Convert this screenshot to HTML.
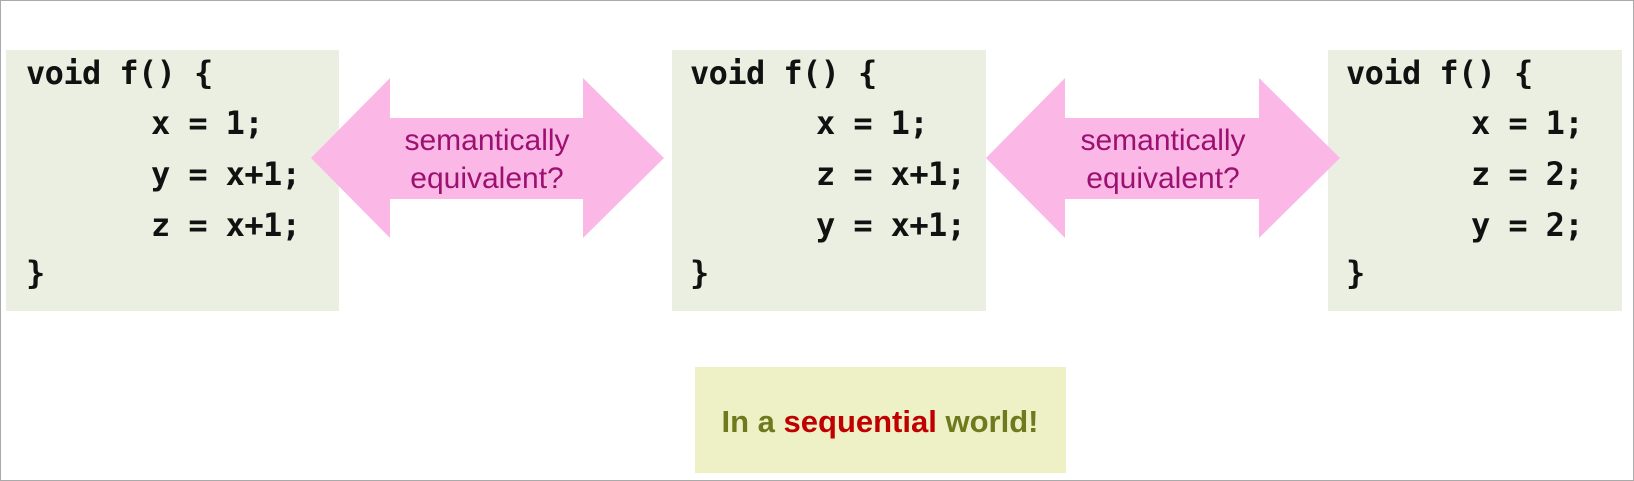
<!DOCTYPE html>
<html><head><style>
body{margin:0;width:1634px;height:481px;position:relative;background:#fff;overflow:hidden;font-family:"Liberation Sans",sans-serif}
.frame{position:absolute;left:0;top:0;width:1634px;height:481px;border:1px solid #aaa;box-sizing:border-box}
.box{position:absolute;background:#ebefe1;top:50px;height:261px}
.c{position:absolute;font-family:"DejaVu Sans Mono","Liberation Mono",monospace;font-weight:bold;font-size:32px;color:#111;white-space:pre;letter-spacing:-0.6px;line-height:32px}
.lbl{position:absolute;color:#9b1070;font-size:30px;text-align:center;line-height:38px;width:240px}
</style></head><body>
<div class="frame"></div>
<div class="box" style="left:6px;width:333px"></div>
<div class="box" style="left:672px;width:314px"></div>
<div class="box" style="left:1328px;width:294px"></div>
<svg style="position:absolute;left:0;top:0" width="1634" height="481">
<polygon points="311,158 390,78 390,118 583,118 583,78 664,158 583,238 583,199 390,199 390,238" fill="#fbb8e6"/>
<polygon points="986,158 1065,78 1065,118 1259,118 1259,78 1340,158 1259,238 1259,199 1065,199 1065,238" fill="#fbb8e6"/>
</svg>
<div class="lbl" style="left:367px;top:122px">semantically<br>equivalent?</div>
<div class="lbl" style="left:1043px;top:122px">semantically<br>equivalent?</div>

<div class="c" style="left:26px;top:57px">void f() {</div>
<div class="c" style="left:151px;top:107px">x = 1;</div>
<div class="c" style="left:151px;top:158px">y = x+1;</div>
<div class="c" style="left:151px;top:209px">z = x+1;</div>
<div class="c" style="left:26px;top:257px">}</div>

<div class="c" style="left:690px;top:57px">void f() {</div>
<div class="c" style="left:816px;top:107px">x = 1;</div>
<div class="c" style="left:816px;top:158px">z = x+1;</div>
<div class="c" style="left:816px;top:209px">y = x+1;</div>
<div class="c" style="left:690px;top:257px">}</div>

<div class="c" style="left:1346px;top:57px">void f() {</div>
<div class="c" style="left:1471px;top:107px">x = 1;</div>
<div class="c" style="left:1471px;top:158px">z = 2;</div>
<div class="c" style="left:1471px;top:209px">y = 2;</div>
<div class="c" style="left:1346px;top:257px">}</div>

<div style="position:absolute;left:695px;top:367px;width:371px;height:106px;background:#eef0c6"></div>
<div style="position:absolute;left:680px;top:404px;width:400px;text-align:center;font-weight:bold;font-size:31px;line-height:36px;color:#6e7a1e;white-space:nowrap">In a <span style="color:#c00000">sequential</span> world!</div>
</body></html>
